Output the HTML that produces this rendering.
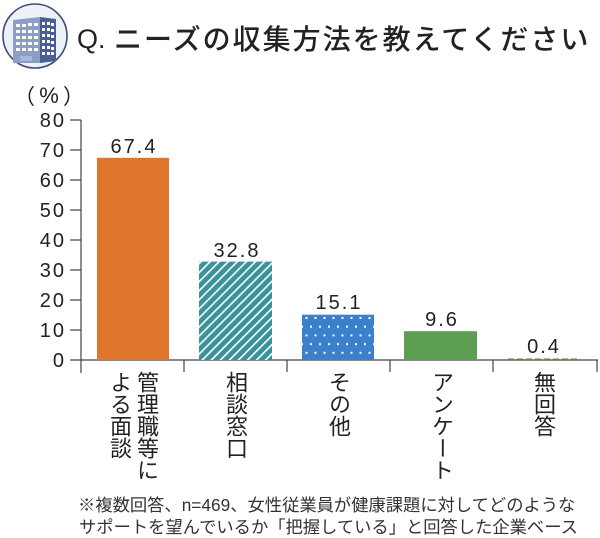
<!DOCTYPE html>
<html><head><meta charset="utf-8">
<style>
html,body{margin:0;padding:0;background:#fff;}
#wrap{position:relative;width:600px;height:538px;overflow:hidden;background:#fff;}
svg{position:absolute;left:0;top:0;}
.cat{position:absolute;top:371px;writing-mode:vertical-rl;font-family:"Liberation Sans","Noto Sans CJK JP",sans-serif;font-size:22px;line-height:27px;color:#222;white-space:nowrap;}
</style></head>
<body><div id="wrap">
<svg width="600" height="538" viewBox="0 0 600 538" xmlns="http://www.w3.org/2000/svg">
<defs>
<pattern id="stripe" patternUnits="userSpaceOnUse" width="6.4" height="6.4" patternTransform="rotate(45)">
<rect width="6.4" height="6.4" fill="#3a939b"/>
<rect x="0" y="0" width="1.6" height="6.4" fill="#ffffff"/>
</pattern>
<pattern id="dots" patternUnits="userSpaceOnUse" x="302" y="314" width="9" height="17.4">
<rect width="9" height="17.4" fill="#3a80cc"/>
<rect x="3.5" y="3" width="2" height="2" fill="#ffffff"/>
<rect x="8" y="11.7" width="2" height="2" fill="#ffffff"/>
<rect x="-1" y="11.7" width="2" height="2" fill="#ffffff"/>
</pattern>
</defs>
<!-- icon -->
<circle cx="35" cy="36" r="32" fill="#eef2f8" stroke="#3f4c7c" stroke-width="1.6"/>
<polygon points="13,20 40,17 40,63 13,63" fill="#8d9ec6"/>
<polygon points="40,17 56,19 56,61 40,63" fill="#4a5e96"/>
<g fill="#ffffff">
<rect x="16" y="24" width="4" height="3"/><rect x="22" y="24" width="4" height="3"/><rect x="28" y="23" width="4" height="3"/><rect x="34" y="23" width="4" height="3"/>
<rect x="16" y="30" width="4" height="3"/><rect x="22" y="30" width="4" height="3"/><rect x="28" y="30" width="4" height="3"/><rect x="34" y="30" width="4" height="3"/>
<rect x="16" y="36" width="4" height="3"/><rect x="22" y="36" width="4" height="3"/><rect x="28" y="36" width="4" height="3"/><rect x="34" y="36" width="4" height="3"/>
<rect x="16" y="42" width="4" height="3"/><rect x="22" y="42" width="4" height="3"/><rect x="28" y="42" width="4" height="3"/><rect x="34" y="42" width="4" height="3"/>
<rect x="16" y="48" width="4" height="3"/><rect x="22" y="48" width="4" height="3"/><rect x="28" y="48" width="4" height="3"/><rect x="34" y="48" width="4" height="3"/>
<rect x="42" y="22" width="3" height="3"/><rect x="47" y="22" width="3" height="3"/><rect x="51" y="23" width="3" height="3"/>
<rect x="42" y="28" width="3" height="3"/><rect x="47" y="28" width="3" height="3"/><rect x="51" y="29" width="3" height="3"/>
<rect x="42" y="34" width="3" height="3"/><rect x="47" y="34" width="3" height="3"/><rect x="51" y="35" width="3" height="3"/>
<rect x="42" y="40" width="3" height="3"/><rect x="47" y="40" width="3" height="3"/><rect x="51" y="41" width="3" height="3"/>
<rect x="42" y="46" width="3" height="3"/><rect x="47" y="46" width="3" height="3"/><rect x="51" y="47" width="3" height="3"/>
<rect x="42" y="52" width="3" height="3"/><rect x="47" y="52" width="3" height="3"/><rect x="51" y="52" width="3" height="3"/>
</g>
<rect x="20" y="56" width="12" height="5" fill="#a9b6d6"/>
<!-- title -->
<text x="77" y="48" font-family="Liberation Sans, sans-serif" font-size="27" fill="#222" font-weight="500">Q.</text>
<text x="114" y="49" font-family="Liberation Sans, Noto Sans CJK JP, sans-serif" font-size="28" letter-spacing="2" fill="#222" font-weight="500">ニーズの収集方法を教えてください</text>
<!-- unit -->
<g fill="#222">
<text x="14" y="104" font-family="Noto Sans CJK JP, sans-serif" font-size="21">（</text>
<text x="49" y="103" font-family="Liberation Sans, sans-serif" font-size="22" text-anchor="middle">%</text>
<text x="63" y="104" font-family="Noto Sans CJK JP, sans-serif" font-size="21">）</text>
</g>
<!-- y axis -->
<g stroke="#444" stroke-width="1.2" fill="none">
<line x1="81" y1="120" x2="81" y2="373"/>
<line x1="70" y1="120" x2="81" y2="120"/>
<line x1="70" y1="150" x2="81" y2="150"/>
<line x1="70" y1="180" x2="81" y2="180"/>
<line x1="70" y1="210" x2="81" y2="210"/>
<line x1="70" y1="240" x2="81" y2="240"/>
<line x1="70" y1="270" x2="81" y2="270"/>
<line x1="70" y1="300" x2="81" y2="300"/>
<line x1="70" y1="330" x2="81" y2="330"/>
<line x1="70" y1="360" x2="598" y2="360"/>
<line x1="184" y1="360" x2="184" y2="372"/>
<line x1="287" y1="360" x2="287" y2="372"/>
<line x1="390" y1="360" x2="390" y2="372"/>
<line x1="493" y1="360" x2="493" y2="372"/>
<line x1="597" y1="360" x2="597" y2="372"/>
</g>
<g font-family="Liberation Sans, sans-serif" font-size="20" fill="#222" text-anchor="end" letter-spacing="2">
<text x="66" y="127">80</text>
<text x="66" y="157">70</text>
<text x="66" y="187">60</text>
<text x="66" y="217">50</text>
<text x="66" y="247">40</text>
<text x="66" y="277">30</text>
<text x="66" y="307">20</text>
<text x="66" y="337">10</text>
<text x="66" y="367">0</text>
</g>
<!-- bars -->
<rect x="97" y="157.8" width="72" height="202.2" fill="#e0752c"/>
<rect x="199" y="261.6" width="73" height="98.4" fill="url(#stripe)"/>
<rect x="302" y="314.7" width="72" height="45.3" fill="url(#dots)"/>
<rect x="404" y="331.2" width="73" height="28.8" fill="#5c9e52"/>
<line x1="508" y1="359" x2="578" y2="359" stroke="#9a9a3a" stroke-width="1.3" stroke-dasharray="6,3"/>
<!-- values -->
<g font-family="Liberation Sans, sans-serif" font-size="20" fill="#222" text-anchor="middle" letter-spacing="2">
<text x="134" y="153">67.4</text>
<text x="237" y="257">32.8</text>
<text x="339" y="309">15.1</text>
<text x="442" y="326">9.6</text>
<text x="544" y="353">0.4</text>
</g>
<!-- footnote -->
<g font-family="Liberation Sans, Noto Sans CJK JP, sans-serif" font-size="17.3" fill="#333">
<text x="78" y="511">※複数回答、n=469、女性従業員が健康課題に対してどのような</text>
<text x="79" y="533">サポートを望んでいるか「把握している」と回答した企業ベース</text>
</g>
</svg>
<div class="cat" style="left:106px;width:54px;">管理職等に<br>よる面談</div>
<div class="cat" style="left:222px;width:27px;">相談窓口</div>
<div class="cat" style="left:325px;width:27px;">その他</div>
<div class="cat" style="left:428px;width:27px;">アンケート</div>
<div class="cat" style="left:530px;width:27px;">無回答</div>
</div></body></html>
